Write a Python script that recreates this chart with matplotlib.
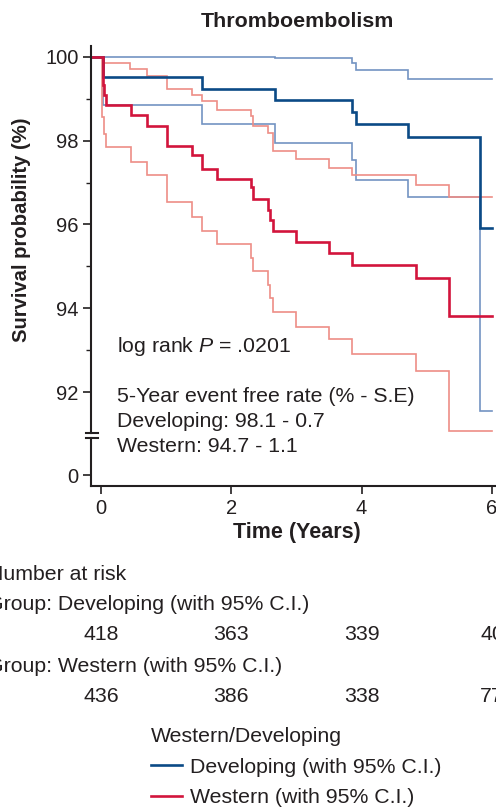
import numpy as np
import matplotlib
matplotlib.use("Agg")
import matplotlib.pyplot as plt
from matplotlib.lines import Line2D
from matplotlib.transforms import blended_transform_factory

plt.rcParams["font.family"] = ["Liberation Sans", "DejaVu Sans"]
plt.rcParams["mathtext.fontset"] = "custom"
plt.rcParams["mathtext.it"] = "Liberation Sans:italic"
plt.rcParams["mathtext.rm"] = "Liberation Sans"

INK = "#231F20"
DEV = "#0B4A86"
DEV_CI = "#7393C2"
WES = "#D2143C"
WES_CI = "#EE8E86"
FS = 15.3

# Kaplan-Meier estimates (time in years, survival in %)
dev_t = [0, 0.035, 1.545, 2.67, 3.845, 3.92, 4.71, 5.81, 6.0]
dev_s = [100, 99.52, 99.24, 98.97, 98.68, 98.41, 98.09, 95.92, 95.92]
dev_up_t = [0, 2.67, 3.845, 3.92, 4.71, 6.0]
dev_up_s = [100, 99.97, 99.85, 99.69, 99.47, 99.47]
dev_lo_t = [0, 0.03, 1.545, 2.67, 3.845, 3.92, 4.71, 5.81, 6.0]
dev_lo_s = [100, 98.85, 98.41, 97.95, 97.53, 97.06, 96.65, 91.55, 91.55]

wes_t = [0, 0.03, 0.05, 0.07, 0.46, 0.70, 1.01, 1.40, 1.545, 1.78, 2.30, 2.34,
         2.56, 2.59, 2.64, 2.99, 3.50, 3.855, 4.83, 5.34, 6.0]
wes_s = [100, 99.33, 99.09, 98.85, 98.61, 98.36, 97.88, 97.65, 97.33, 97.08,
         96.90, 96.61, 96.35, 96.11, 95.85, 95.59, 95.33, 95.04, 94.73, 93.81, 93.81]
wes_up_t = [0, 0.04, 0.45, 0.70, 1.01, 1.40, 1.545, 1.78, 2.30, 2.34, 2.56, 2.64,
            2.99, 3.50, 3.855, 4.83, 5.34, 6.0]
wes_up_s = [100, 99.86, 99.72, 99.54, 99.23, 99.08, 98.94, 98.73, 98.58, 98.35,
            98.18, 97.76, 97.56, 97.34, 97.18, 96.94, 96.65, 96.65]
wes_lo_t = [0, 0.01, 0.05, 0.07, 0.46, 0.70, 1.01, 1.40, 1.545, 1.78, 2.30, 2.34,
            2.56, 2.59, 2.64, 2.99, 3.50, 3.855, 4.83, 5.34, 6.0]
wes_lo_s = [100, 98.56, 98.16, 97.84, 97.48, 97.18, 96.54, 96.17, 95.85, 95.53,
            95.20, 94.89, 94.56, 94.24, 93.90, 93.55, 93.26, 92.91, 92.51, 91.07, 91.07]

risk_times = [0, 2, 4, 6]
risk_dev = [418, 363, 339, 40]
risk_wes = [436, 386, 338, 77]

W, H = 496, 807
fig = plt.figure(figsize=(W / 100, H / 100), dpi=100)


def box(x0, y0, x1, y1):
    # pixel box (top-left origin) -> figure fraction rect
    return [x0 / W, 1 - y1 / H, (x1 - x0) / W, (y1 - y0) / H]


xmin, xmax = -0.153, 6.17
ax = fig.add_axes(box(91, 46, 503, 432.7))
axb = fig.add_axes(box(91, 438.3, 503, 486))

curves = [
    (dev_up_t, dev_up_s, DEV_CI, 1.2),
    (dev_lo_t, dev_lo_s, DEV_CI, 1.2),
    (wes_up_t, wes_up_s, WES_CI, 1.2),
    (wes_lo_t, wes_lo_s, WES_CI, 1.2),
    (dev_t, dev_s, DEV, 1.9),
    (wes_t, wes_s, WES, 1.9),
]
for t, s, c, lw in curves:
    ax.step(np.r_[xmin, t], np.r_[s[0], s], where="post", color=c, lw=lw,
            solid_joinstyle="miter")

ax.set_xlim(xmin, xmax)
ax.set_ylim(91.03, 100.26)
ax.set_yticks([92, 94, 96, 98, 100])
ax.set_yticks([93, 95, 97, 99], minor=True)
ax.set_xticks([])
for sp in ["top", "right", "bottom"]:
    ax.spines[sp].set_visible(False)

axb.set_xlim(xmin, xmax)
axb.set_ylim(-0.2625, 0.876)
axb.set_yticks([0])
axb.set_xticks(risk_times)
for sp in ["top", "right"]:
    axb.spines[sp].set_visible(False)
axb.patch.set_alpha(0)
ax.patch.set_alpha(0)

for a in (ax, axb):
    a.spines["left"].set_linewidth(1.5)
    a.spines["left"].set_color(INK)
    a.spines["bottom"].set_linewidth(1.5)
    a.spines["bottom"].set_color(INK)
    a.tick_params(axis="both", which="major", length=6, width=1.2, color=INK,
                  labelsize=14.5, labelcolor=INK, pad=3)
    a.tick_params(axis="y", which="minor", length=3.5, width=1.0, color=INK)

axb.set_xlabel("Time (Years)", fontsize=15.5, fontweight="bold", color=INK, labelpad=3)
ax.set_title("Thromboembolism", fontsize=15.4, fontweight="bold", color=INK, pad=14)
fig.text(22 / W, 1 - 230 / H, "Survival probability (%)", rotation=90,
         fontsize=14.6, fontweight="bold", color=INK, ha="center", va="center")

# axis break marks
for yb in (432.7, 438.3):
    fig.add_artist(Line2D([86 / W, 98 / W], [1 - yb / H, 1 - yb / H],
                          color=INK, lw=1.5))

txt = dict(fontsize=FS, color=INK, ha="left", va="center")
fig.text(117 / W, 1 - 346 / H, "log rank $P$ = .0201", **txt)
fig.text(117 / W, 1 - 396 / H, "5-Year event free rate (% - S.E)", **txt)
fig.text(117 / W, 1 - 421 / H, "Developing: 98.1 - 0.7", **txt)
fig.text(117 / W, 1 - 447 / H, "Western: 94.7 - 1.1", **txt)

# number at risk table
fig.text(-12 / W, 1 - 574 / H, "Number at risk", **txt)
fig.text(-13 / W, 1 - 605 / H, "Group: Developing (with 95% C.I.)", **txt)
fig.text(-13 / W, 1 - 666 / H, "Group: Western (with 95% C.I.)", **txt)
tr = blended_transform_factory(axb.transData, fig.transFigure)
for tt, n in zip(risk_times, risk_dev):
    fig.text(tt, 1 - 635 / H, str(n), transform=tr, fontsize=FS, color=INK,
             ha="center", va="center")
for tt, n in zip(risk_times, risk_wes):
    fig.text(tt, 1 - 697 / H, str(n), transform=tr, fontsize=FS, color=INK,
             ha="center", va="center")

handles = [Line2D([], [], color=DEV, lw=1.9), Line2D([], [], color=WES, lw=1.9)]
leg = fig.legend(handles, ["Developing (with 95% C.I.)", "Western (with 95% C.I.)"],
                 title="Western/Developing", loc="upper left",
                 bbox_to_anchor=(151 / W, 1 - 727 / H), frameon=False,
                 fontsize=FS, title_fontsize=FS, handlelength=1.45,
                 handletextpad=0.4, labelspacing=0.55, alignment="left",
                 borderaxespad=0, borderpad=0)
for t in leg.get_texts():
    t.set_color(INK)
leg.get_title().set_color(INK)

fig.savefig("out.png", dpi=100)
